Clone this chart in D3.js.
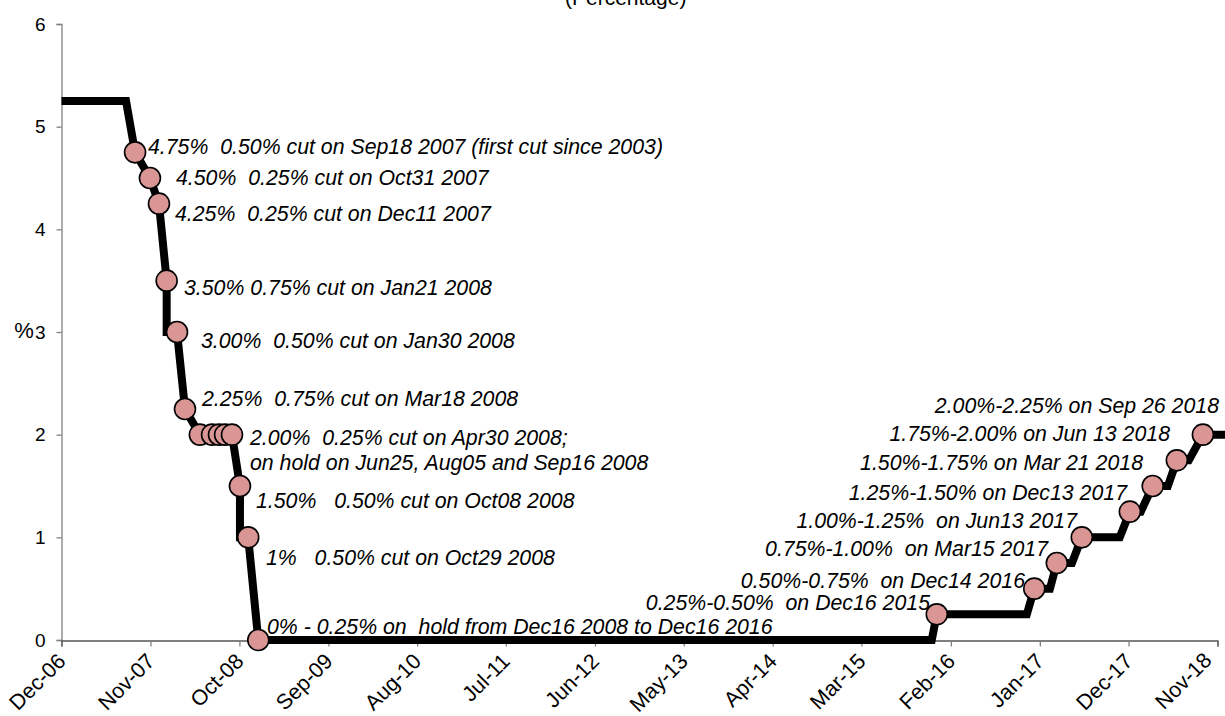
<!DOCTYPE html>
<html>
<head>
<meta charset="utf-8">
<script src="https://cdn.jsdelivr.net/npm/d3@7"></script>
<style>
  html, body { margin: 0; padding: 0; background: #fff; }
  svg { display: block; }
  text { font-family: "Liberation Sans", Arial, sans-serif; }
</style>
</head>
<body>
<svg id="chart" width="1225" height="716"></svg>
<script>
// ---------- data ----------
const title = "(Percentage)";
const yAxisLabel = "%";
const tickDates = ["2006-12-01","2007-11-01","2008-10-01","2009-09-01","2010-08-01","2011-07-01",
  "2012-06-01","2013-05-01","2014-04-01","2015-03-01","2016-02-01","2017-01-01","2017-12-01","2018-11-01"];
const yTicks = [0, 1, 2, 3, 4, 5, 6];

// rate path (date, % value)
const lineDates = ["2006-12-01","2007-08-01","2007-09-04","2007-10-30","2007-12-03","2008-01-01","2008-01-01",
  "2008-02-09","2008-03-10","2008-05-05","2008-09-03","2008-10-03","2008-10-03","2008-11-03","2008-12-11",
  "2015-11-21","2015-12-10","2016-11-13","2016-12-11","2017-02-08","2017-03-06","2017-05-02","2017-06-08",
  "2017-10-29","2017-12-06","2018-01-16","2018-03-02","2018-04-28","2018-06-01","2018-07-16","2018-09-07","2018-11-30"];
const lineValues = [5.25,5.25,4.75,4.50,4.25,3.50,3.00,
  3.00,2.25,2.00,2.00,1.50,1.00,1.00,0,
  0,0.25,0.25,0.50,0.50,0.75,0.75,1.00,
  1.00,1.25,1.25,1.50,1.50,1.75,1.75,2.00,2.00];

// policy decision markers
const markerDates = ["2007-09-04","2007-10-30","2007-12-03","2008-01-01","2008-02-09","2008-03-10",
  "2008-05-05","2008-06-20","2008-07-16","2008-08-08","2008-09-03","2008-10-03","2008-11-03","2008-12-11",
  "2015-12-10","2016-12-11","2017-03-06","2017-06-08","2017-12-06","2018-03-02","2018-06-01","2018-09-07"];
const markerValues = [4.75,4.50,4.25,3.50,3.00,2.25,
  2.00,2.00,2.00,2.00,2.00,1.50,1.00,0,
  0.25,0.50,0.75,1.00,1.25,1.50,1.75,2.00];

// annotation texts
const annotations = [
  ["4.75%  0.50% cut on Sep18 2007 (first cut since 2003)"],
  ["4.50%  0.25% cut on Oct31 2007"],
  ["4.25%  0.25% cut on Dec11 2007"],
  ["3.50% 0.75% cut on Jan21 2008"],
  ["3.00%  0.50% cut on Jan30 2008"],
  ["2.25%  0.75% cut on Mar18 2008"],
  ["2.00%  0.25% cut on Apr30 2008;", "on hold on Jun25, Aug05 and Sep16 2008"],
  ["1.50%   0.50% cut on Oct08 2008"],
  ["1%   0.50% cut on Oct29 2008"],
  ["0% - 0.25% on  hold from Dec16 2008 to Dec16 2016"],
  ["0.25%-0.50%  on Dec16 2015"],
  ["0.50%-0.75%  on Dec14 2016"],
  ["0.75%-1.00%  on Mar15 2017"],
  ["1.00%-1.25%  on Jun13 2017"],
  ["1.25%-1.50% on Dec13 2017"],
  ["1.50%-1.75% on Mar 21 2018"],
  ["1.75%-2.00% on Jun 13 2018"],
  ["2.00%-2.25% on Sep 26 2018"]
];

// ---------- layout (positions of annotation text: x, baseline y, anchor) ----------
const annotationLayout = [
  [148,153.5,"start"],[176,184.5,"start"],[175,220.5,"start"],[184,294.5,"start"],[201,347.5,"start"],
  [202,405.5,"start"],[250,444.5,"start"],[256,507.5,"start"],[266,564.5,"start"],[267,633.5,"start"],
  [930,609.5,"end"],[1025,587.5,"end"],[1048,555.5,"end"],[1077,527.5,"end"],[1127,499.5,"end"],
  [1143,469.5,"end"],[1170,440.5,"end"],[1219,412.5,"end"]
];

// ---------- drawing ----------
const parse = d3.utcParse("%Y-%m-%d");
const svg = d3.select("#chart");

const x = d3.scaleUtc()
  .domain([parse("2006-12-01"), parse("2018-11-01")])
  .range([61.5, 1217.5]);
const y = d3.scaleLinear().domain([0, 6]).range([640, 24]);

// title (cut off at top, as in the original)
svg.append("text")
  .attr("x", 565).attr("y", 5)
  .attr("font-size", 21).attr("fill", "#000")
  .text(title);

// y axis
const yAxis = svg.append("g")
  .attr("transform", "translate(61.5,0)")
  .call(d3.axisLeft(y).tickValues(yTicks).tickFormat(d3.format("d")).tickSize(5).tickPadding(11));
yAxis.select(".domain").attr("stroke", "#808080").attr("stroke-width", 1.3);
yAxis.selectAll(".tick line").attr("stroke", "#808080").attr("stroke-width", 1.3);
yAxis.selectAll(".tick text").attr("font-size", 19).attr("fill", "#000")
  .attr("font-family", "'Liberation Sans', Arial, sans-serif");

svg.append("text")
  .attr("x", 24).attr("y", 338)
  .attr("text-anchor", "middle")
  .attr("font-size", 22).attr("fill", "#000")
  .text(yAxisLabel);

// x axis
const xAxis = svg.append("g")
  .attr("transform", "translate(0,640.5)")
  .call(d3.axisBottom(x).tickValues(tickDates.map(parse)).tickFormat(d3.utcFormat("%b-%y")).tickSizeOuter(0).tickSize(6));
xAxis.select(".domain").attr("stroke", "#000").attr("stroke-width", 1.2);
xAxis.selectAll(".tick line").attr("stroke", "#808080").attr("stroke-width", 1.3);
const nTicks = tickDates.length;
xAxis.selectAll(".tick text")
  .attr("font-size", 21.5).attr("fill", "#000")
  .attr("font-family", "'Liberation Sans', Arial, sans-serif")
  .attr("text-anchor", "end")
  .attr("y", 0).attr("dy", 0)
  .attr("transform", (d, i) => i === nTicks - 1 ? "translate(-5,21) rotate(-45)" : "translate(5,22) rotate(-45)");

// rate line
const lineData = lineDates.map((d, i) => [parse(d), lineValues[i]]);
svg.append("path")
  .datum(lineData)
  .attr("fill", "none")
  .attr("stroke", "#000")
  .attr("stroke-width", 8)
  .attr("stroke-linejoin", "miter")
  .attr("d", d3.line().x(d => x(d[0])).y(d => y(d[1])));

// markers
const markerData = markerDates.map((d, i) => [parse(d), markerValues[i]]);
svg.append("g").selectAll("circle")
  .data(markerData)
  .join("circle")
  .attr("cx", d => x(d[0]))
  .attr("cy", d => y(d[1]))
  .attr("r", 10.5)
  .attr("fill", "#D99694")
  .attr("stroke", "#000")
  .attr("stroke-width", 1.6);

// annotations
const ann = svg.append("g")
  .attr("font-size", 21.3).attr("font-style", "italic").attr("fill", "#000");
annotations.forEach((lines, i) => {
  const [ax, ay, anchor] = annotationLayout[i];
  lines.forEach((t, j) => {
    ann.append("text")
      .attr("x", ax).attr("y", ay + j * 25)
      .attr("text-anchor", anchor)
      .style("white-space", "pre")
      .attr("xml:space", "preserve")
      .text(t);
  });
});
</script>
</body>
</html>
